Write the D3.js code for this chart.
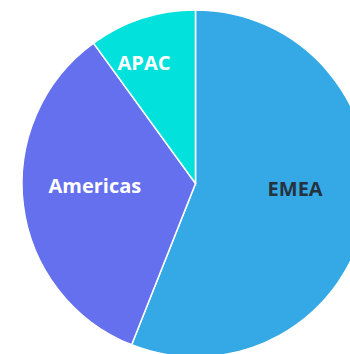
<!DOCTYPE html>
<html>
<head>
<meta charset="utf-8">
<script src="https://cdn.jsdelivr.net/npm/d3@7"></script>
<style>
  body { margin: 0; background: #fff; overflow: hidden; }
  svg { display: block; }
</style>
</head>
<body>
<div class="chart"></div>
<script>
// Data
const regions = ["EMEA", "Americas", "APAC"]
const shares = [56, 34, 10]

// Label placement (angle in degrees clockwise from 12 o'clock, radius as fraction of pie radius)
const labelAngle = [93, 269, 337]
const labelRadius = [0.575, 0.58, 0.76]

const colors = ["#35a9e5", "#6470ee", "#02e1dc"]
const textColors = ["#25323f", "#ffffff", "#ffffff"]

const width = 350
const height = 354
const center = { x: 195.5, y: 183.5 }
const radius = 173.5

const svg = d3.select(".chart")
  .append("svg")
  .attr("width", width)
  .attr("height", height)

const data = regions.map((r, i) => ({ region: r, value: shares[i], i }))

const pie = d3.pie()
  .value(d => d.value)
  .sort(null)

const arc = d3.arc()
  .innerRadius(0)
  .outerRadius(radius)

const g = svg.append("g")
  .attr("transform", `translate(${center.x},${center.y})`)

g.selectAll("path")
  .data(pie(data))
  .enter()
  .append("path")
    .attr("d", arc)
    .style("fill", d => colors[d.data.i])
    .style("stroke", "#fff")
    .style("stroke-width", 1.5)

g.selectAll("text")
  .data(data)
  .enter()
  .append("text")
    .attr("x", d => Math.sin(labelAngle[d.i] * Math.PI / 180) * radius * labelRadius[d.i])
    .attr("y", d => -Math.cos(labelAngle[d.i] * Math.PI / 180) * radius * labelRadius[d.i])
    .attr("text-anchor", "middle")
    .attr("dominant-baseline", "central")
    .style("font-family", "'Open Sans', sans-serif")
    .style("font-weight", "bold")
    .style("font-size", "20px")
    .style("fill", d => textColors[d.i])
    .text(d => d.region)
</script>
</body>
</html>
